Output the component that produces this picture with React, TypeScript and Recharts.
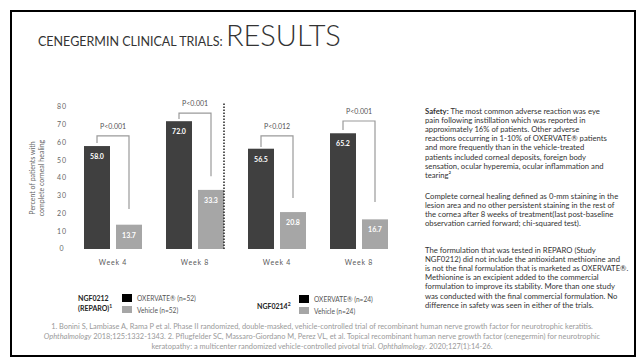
import React from "react";
import { BarChart, Bar, XAxis, YAxis, LabelList } from "recharts";

const categories = ["Week 4", "Week 8", "Week 4", "Week 8"];
const catIds = ["w4-0212", "w8-0212", "w4-0214", "w8-0214"];
const oxervate = [58.0, 72.0, 56.5, 65.2];
const vehicle = [13.7, 33.3, 20.8, 16.7];
const pLabels = ["P<0.001", "P<0.001", "P<0.012", "P<0.001"];
// bracket levels, in axis units
const bracketTop = [63.7, 76.6, 63.7, 72.1];
const bracketLeftFrom = [59.7, 73.2, 57.5, 67.0];
const bracketRightTo = [22.5, 41.0, 28.7, 26.5];
const dividerAfter = [false, true, false, false];
const dividerTop = 82;
const yTicks = [0, 10, 20, 30, 40, 50, 60, 70, 80];

const safetyLines = [
	"The most common adverse reaction was eye",
	"pain following instillation which was reported in",
	"approximately 16% of patients. Other adverse",
	"reactions occurring in 1-10% of OXERVATE® patients",
	"and more frequently than in the vehicle-treated",
	"patients included corneal deposits, foreign body",
	"sensation, ocular hyperemia, ocular inflammation and",
	"tearing²",
];
const healingLines = [
	"Complete corneal healing defined as 0-mm staining in the",
	"lesion area and no other persistent staining in the rest of",
	"the cornea after 8 weeks of treatment(last post-baseline",
	"observation carried forward; chi-squared test).",
];
const formulationLines = [
	"The formulation that was tested in REPARO (Study",
	"NGF0212) did not include the antioxidant methionine and",
	"is not the final formulation that is marketed as OXERVATE®.",
	"Methionine is an excipient added to the commercial",
	"formulation to improve its stability. More than one study",
	"was conducted with the final commercial formulation. No",
	"difference in safety was seen in either of the trials.",
];

const data = catIds.map((id, i) => ({
	id,
	oxervate: oxervate[i],
	vehicle: vehicle[i],
}));

const FONT = "Lato, 'Open Sans', sans-serif";
const DARK = "#404040";
const LIGHT = "#a6a6a6";
const BAR_GAP = 6;

function DarkBar(props: any) {
	const { x, y, width, height, index } = props;
	const scale = height / oxervate[index];
	const base = y + height;
	const toY = (v: number) => base - v * scale;
	const lx = x + width / 2;
	const rx = x + width + BAR_GAP + width / 2;
	const top = toY(bracketTop[index]);
	return (
		<g>
			<rect x={x} y={y} width={width} height={height} fill={DARK} />
			<path
				d={`M${lx},${toY(bracketLeftFrom[index])} L${lx},${top} L${rx},${top} L${rx},${toY(bracketRightTo[index])}`}
				fill="none"
				stroke="#9a9a9a"
				strokeWidth={1.2}
			/>
			<text
				x={(lx + rx) / 2}
				y={top - 7}
				textAnchor="middle"
				fontSize={7}
				fill="#555"
				fontFamily={FONT}
			>
				{pLabels[index]}
			</text>
		</g>
	);
}

function LightBar(props: any) {
	const { x, y, width, height, index } = props;
	const scale = height / vehicle[index];
	const base = y + height;
	const lineX = x + width;
	return (
		<g>
			<rect x={x} y={y} width={width} height={height} fill={LIGHT} />
			{dividerAfter[index] && (
				<line
					x1={lineX}
					x2={lineX}
					y1={base - dividerTop * scale}
					y2={base}
					stroke="#222"
					strokeWidth={1.5}
					strokeDasharray="1.5 1.5"
				/>
			)}
		</g>
	);
}

function YTick(props: any) {
	const { x, y, payload } = props;
	return (
		<text
			x={x - 10}
			y={y}
			dy="0.35em"
			textAnchor="middle"
			fontSize={7}
			letterSpacing={1}
			fill="#666"
			fontFamily={FONT}
		>
			{payload.value}
		</text>
	);
}

function XTick(props: any) {
	const { x, y, index } = props;
	return (
		<text
			x={x}
			y={y + 6}
			dy="0.35em"
			textAnchor="middle"
			fontSize={7}
			letterSpacing={0.8}
			fill="#595959"
			fontFamily={FONT}
		>
			{categories[index]}
		</text>
	);
}

const abs = (left: number, top: number, extra: React.CSSProperties = {}) =>
	({ position: "absolute", left, top, whiteSpace: "nowrap", ...extra }) as React.CSSProperties;

function TextLines({ lines, left, top, step, first }: any) {
	return (
		<>
			{lines.map((l: string, i: number) => (
				<div
					key={i}
					style={abs(left, top + i * step, {
						fontSize: 7.7,
						lineHeight: "9px",
						color: "#333",
					})}
				>
					{i === 0 && first ? <b>{first} </b> : null}
					{l}
				</div>
			))}
		</>
	);
}

export default function App() {
	return (
		<div
			style={{
				position: "absolute",
				left: 0,
				top: 0,
				width: 644,
				height: 362,
				background: "#fff",
				fontFamily: FONT,
				overflow: "hidden",
			}}
		>
			<div
				style={{
					position: "absolute",
					left: 10,
					top: 10,
					width: 622,
					height: 343,
					border: "2.5px solid #000",
				}}
			/>
			<div style={abs(38, 21, { color: "#333", lineHeight: "27px" })}>
				<span style={{ fontSize: 12.5 }}>CENEGERMIN CLINICAL TRIALS: </span>
				<span style={{ fontSize: 29, fontWeight: 300 }}>RESULTS</span>
			</div>

			<div
				style={abs(37, 178, {
					transform: "translate(-50%, -50%) rotate(-90deg)",
					fontSize: 7,
					lineHeight: "9px",
					color: "#666",
					textAlign: "center",
				})}
			>
				Percent of patients with
				<br />
				complete corneal healing
			</div>

			<div style={abs(0, 80)}>
				<BarChart
					width={420}
					height={200}
					data={data}
					margin={{ top: 27, right: 20, left: 0, bottom: 6 }}
					barGap={BAR_GAP}
					barSize={26}
				>
					<XAxis
						dataKey="id"
						axisLine={false}
						tickLine={false}
						height={25}
						tick={<XTick />}
						interval={0}
					/>
					<YAxis
						domain={[0, 80]}
						ticks={yTicks}
						axisLine={false}
						tickLine={false}
						tickSize={0}
						tickMargin={0}
						width={72}
						tick={<YTick />}
						interval={0}
					/>
					<Bar dataKey="oxervate" shape={<DarkBar />} isAnimationActive={false}>
						<LabelList
							dataKey="oxervate"
							position="insideTop"
							offset={8}
							formatter={(v: any) => Number(v).toFixed(1)}
							fill="#fff"
							fontSize={7}
							fontWeight="bold"
							fontFamily={FONT}
						/>
					</Bar>
					<Bar dataKey="vehicle" shape={<LightBar />} isAnimationActive={false}>
						<LabelList
							dataKey="vehicle"
							position="insideTop"
							offset={8}
							formatter={(v: any) => Number(v).toFixed(1)}
							fill="#fff"
							fontSize={7}
							fontWeight="bold"
							fontFamily={FONT}
						/>
					</Bar>
				</BarChart>
			</div>

			{/* legends */}
			<div style={abs(78, 294, { fontSize: 7, fontWeight: 700, lineHeight: "8px", color: "#222" })}>
				NGF0212
				<br />
				(REPARO)<sup style={{ fontSize: 5 }}>1</sup>
			</div>
			<div style={abs(122, 294, { width: 10, height: 8, background: "#000" })} />
			<div style={abs(122, 306, { width: 10, height: 7, background: LIGHT })} />
			<div style={abs(137, 293, { fontSize: 6.6, lineHeight: "10px", color: "#555" })}>
				OXERVATE® (n=52)
			</div>
			<div style={abs(137, 305, { fontSize: 6.6, lineHeight: "10px", color: "#555" })}>
				Vehicle (n=52)
			</div>

			<div style={abs(257, 300, { fontSize: 7, fontWeight: 700, lineHeight: "9px", color: "#222" })}>
				NGF0214<sup style={{ fontSize: 5 }}>2</sup>
			</div>
			<div style={abs(299, 295, { width: 10, height: 8, background: "#000" })} />
			<div style={abs(299, 307, { width: 10, height: 7, background: LIGHT })} />
			<div style={abs(314, 294, { fontSize: 6.6, lineHeight: "10px", color: "#555" })}>
				OXERVATE® (n=24)
			</div>
			<div style={abs(314, 306, { fontSize: 6.6, lineHeight: "10px", color: "#555" })}>
				Vehicle (n=24)
			</div>

			{/* right column */}
			<TextLines lines={safetyLines} left={425} top={107} step={9.1} first="Safety:" />
			<TextLines lines={healingLines} left={425} top={192} step={9.1} />
			<TextLines lines={formulationLines} left={425} top={246} step={9.1} />

			{/* footnotes */}
			<div
				style={{
					position: "absolute",
					left: 0,
					top: 322,
					width: 644,
					textAlign: "center",
					fontSize: 7.4,
					lineHeight: "10px",
					color: "#9a9a9a",
				}}
			>
				<div>
					1. Bonini S, Lambiase A, Rama P et al. Phase II randomized, double-masked, vehicle-controlled trial of recombinant human nerve growth factor for neurotrophic keratitis.
				</div>
				<div>
					<i>Ophthalmology</i> 2018;125:1332-1343. 2. Pflugfelder SC, Massaro-Giordano M, Perez VL, et al. Topical recombinant human nerve growth factor (cenegermin) for neurotrophic
				</div>
				<div>
					keratopathy: a multicenter randomized vehicle-controlled pivotal trial. <i>Ophthalmology</i>. 2020;127(1):14-26.
				</div>
			</div>
		</div>
	);
}
